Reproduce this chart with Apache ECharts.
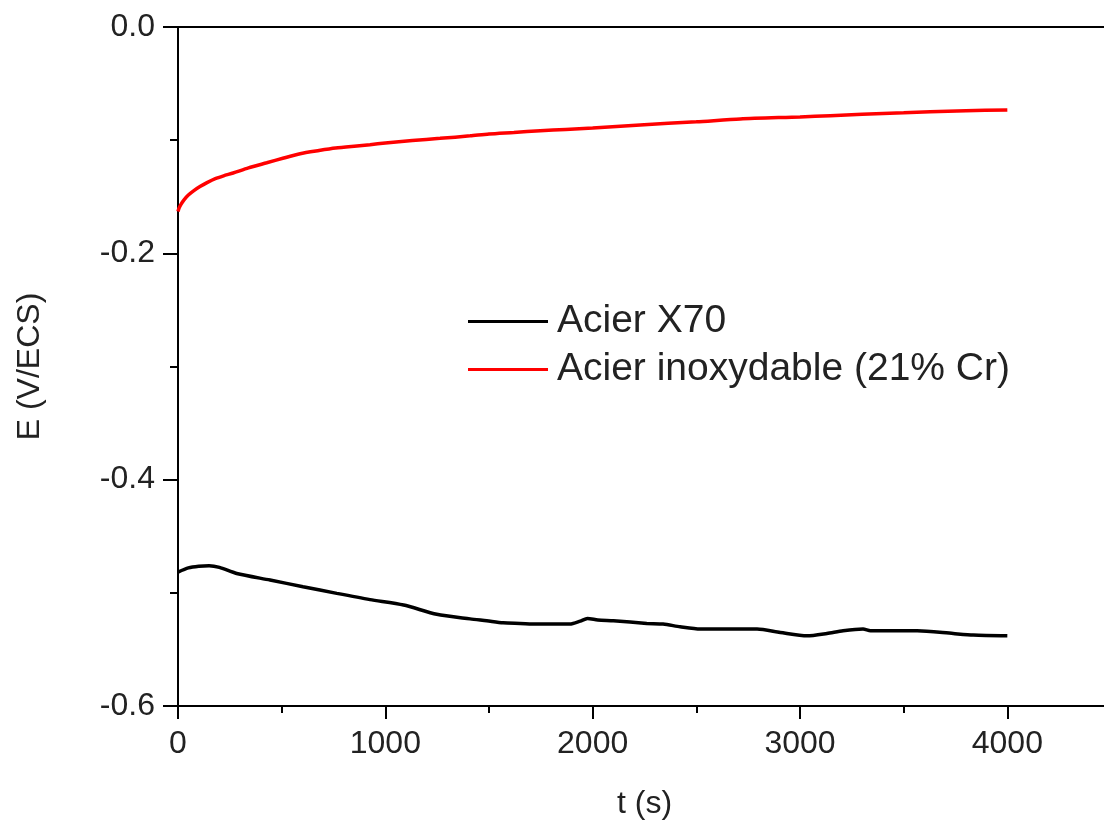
<!DOCTYPE html>
<html>
<head>
<meta charset="utf-8">
<script src="https://cdn.jsdelivr.net/npm/echarts@6/dist/echarts.min.js"></script>
<style>
  html, body { margin: 0; padding: 0; background: #fff; }
  #chart { width: 1104px; height: 827px; }
</style>
</head>
<body>
<div id="chart"></div>
<script>
// Open-circuit potential vs time
const seriesNames = ['Acier X70', 'Acier inoxydable (21% Cr)'];

// Acier X70 (black)
const tBlack = [0, 50, 100, 150, 200, 283, 444, 603, 766, 926, 1088, 1248, 1409, 1489, 1568, 1650, 1732, 1890, 1940, 1975, 2025, 2100, 2261, 2340, 2422, 2519, 2650, 2793, 2905, 3034, 3130, 3208, 3304, 3340, 3450, 3565, 3739, 3836, 4000];
const eBlack = [-0.4817, -0.478, -0.4765, -0.476, -0.4775, -0.4829, -0.4887, -0.4946, -0.5005, -0.506, -0.5108, -0.519, -0.523, -0.5247, -0.5265, -0.527, -0.5276, -0.5276, -0.525, -0.5226, -0.524, -0.5247, -0.527, -0.5276, -0.530, -0.532, -0.532, -0.532, -0.535, -0.538, -0.5359, -0.5335, -0.532, -0.5335, -0.5335, -0.5335, -0.536, -0.5373, -0.538];

// Acier inoxydable 21% Cr (red)
const tRed = [0, 5, 15, 30, 50, 75, 106, 140, 180, 220, 266, 340, 428, 510, 589, 680, 760, 850, 926, 1000, 1130, 1264, 1409, 1500, 1620, 1747, 1870, 2000, 2229, 2500, 2712, 3000, 3146, 3300, 3500, 3628, 3800, 4000];
const eRed = [-0.163, -0.160, -0.1565, -0.1525, -0.1485, -0.1448, -0.141, -0.1375, -0.134, -0.1315, -0.129, -0.1245, -0.120, -0.1158, -0.112, -0.1092, -0.107, -0.1053, -0.104, -0.1025, -0.1003, -0.0984, -0.0962, -0.0946, -0.0932, -0.0916, -0.0905, -0.0893, -0.0865, -0.0838, -0.0812, -0.0795, -0.0784, -0.0772, -0.0758, -0.0748, -0.0740, -0.0733];

const xTicks = { min: 0, max: 4500, interval: 1000 };
const yTicks = { min: -0.6, max: 0, interval: 0.2 };

const zip = (xs, ys) => xs.map((x, i) => [x, ys[i]]);

const font = '"Liberation Sans", Arial, sans-serif';
const textColor = '#222';

const chart = echarts.init(document.getElementById('chart'), null, { renderer: 'canvas' });

chart.setOption({
  animation: false,
  backgroundColor: '#fff',
  grid: { left: 178, top: 27, width: 933, height: 679, containLabel: false, outerBoundsMode: 'none' },
  legend: {
    orient: 'vertical',
    left: 463,
    top: 297,
    itemWidth: 80,
    itemHeight: 3,
    itemGap: 9,
    icon: 'rect',
    textStyle: { fontFamily: font, fontSize: 39, color: textColor, lineHeight: 39, padding: [0, 0, 0, 4] },
    data: [
      { name: seriesNames[0], itemStyle: { color: '#000' } },
      { name: seriesNames[1], itemStyle: { color: '#ff0000' } }
    ]
  },
  xAxis: [
    {
      type: 'value',
      min: xTicks.min,
      max: xTicks.max,
      interval: xTicks.interval,
      name: 't (s)',
      nameLocation: 'middle',
      nameGap: 82,
      nameTextStyle: { fontFamily: font, fontSize: 32, color: textColor },
      axisLine: { onZero: false, lineStyle: { color: '#000', width: 2 } },
      axisTick: { inside: false, length: 13, lineStyle: { color: '#000', width: 2 } },
      minorTick: { show: true, splitNumber: 2, length: 7, lineStyle: { color: '#000', width: 2 } },
      axisLabel: {
        margin: 22, fontFamily: font, fontSize: 32, color: textColor, showMaxLabel: false,
        formatter: v => String(v)
      },
      splitLine: { show: false }
    },
    {
      type: 'value',
      position: 'top',
      min: xTicks.min,
      max: xTicks.max,
      axisLine: { onZero: false, lineStyle: { color: '#000', width: 2 } },
      axisTick: { show: false },
      axisLabel: { show: false },
      splitLine: { show: false }
    }
  ],
  yAxis: {
    type: 'value',
    min: yTicks.min,
    max: yTicks.max,
    interval: yTicks.interval,
    name: 'E (V/ECS)',
    nameLocation: 'middle',
    nameRotate: 90,
    nameGap: 132,
    nameTextStyle: { fontFamily: font, fontSize: 32, color: textColor },
    axisLine: { onZero: false, lineStyle: { color: '#000', width: 2 } },
    axisTick: { inside: false, length: 15, lineStyle: { color: '#000', width: 2 } },
    minorTick: { show: true, splitNumber: 2, length: 8, lineStyle: { color: '#000', width: 2 } },
    axisLabel: {
      margin: 23,
      fontFamily: font,
      fontSize: 32,
      color: textColor,
      formatter: v => v.toFixed(1)
    },
    splitLine: { show: false }
  },
  series: [
    {
      name: seriesNames[0],
      type: 'line',
      data: zip(tBlack, eBlack),
      showSymbol: false,
      smooth: 0.25,
      lineStyle: { color: '#000', width: 3.5 },
      itemStyle: { color: '#000' }
    },
    {
      name: seriesNames[1],
      type: 'line',
      data: zip(tRed, eRed),
      showSymbol: false,
      smooth: 0.25,
      lineStyle: { color: '#ff0000', width: 3.5 },
      itemStyle: { color: '#ff0000' }
    }
  ]
});
</script>
</body>
</html>
